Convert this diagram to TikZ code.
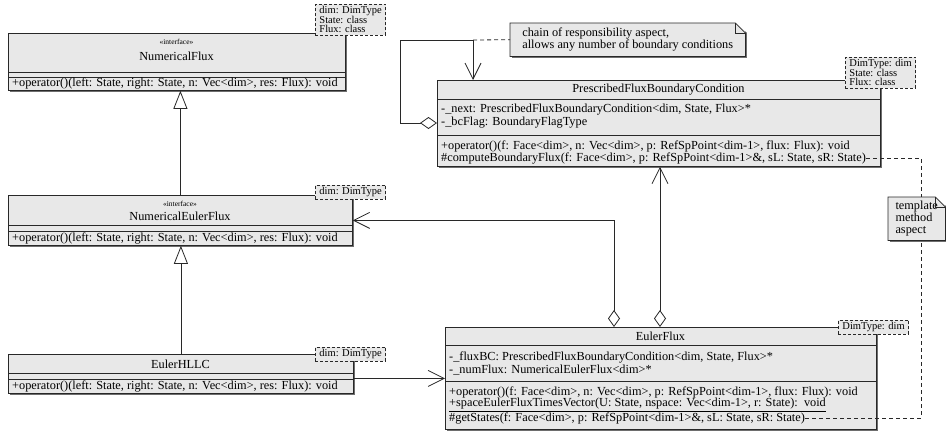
\documentclass[tikz,border=0pt]{standalone}
\usepackage{fontspec}
\setmainfont{Liberation Serif}
\usepackage{tikz}
\usetikzlibrary{arrows.meta, positioning, calc, shadows}
\definecolor{boxfill}{RGB}{232,232,232}
\definecolor{boxline}{RGB}{40,40,40}
\definecolor{shadowgray}{RGB}{110,110,110}
\newcommand{\umlfont}{\fontsize{12.3}{12}\selectfont}
\newcommand{\notefold}[1]{%
  \fill[white] ([xshift=-10pt]#1.north east) -- ([xshift=2pt]#1.north east) -- ([shift={(2pt,-10pt)}]#1.north east) -- cycle;
  \draw[boxline, line width=0.8pt] (#1.north west) -- ([xshift=-10pt]#1.north east) -- ([yshift=-10pt]#1.north east) -- (#1.south east) -- (#1.south west) -- cycle;
  \draw[boxline, line width=0.8pt] ([xshift=-10pt]#1.north east) |- ([yshift=-10pt]#1.north east);
}
\tikzset{
  classbox/.style={rectangle, draw=boxline, fill=boxfill, line width=0.8pt,
    anchor=north west, inner sep=0pt,
    drop shadow={shadow xshift=1.6pt, shadow yshift=-1.6pt, fill=shadowgray, opacity=1}},
  cname/.style={font=\umlfont, inner sep=0pt},
  stereo/.style={font=\fontsize{7.5}{8}\selectfont, inner sep=0pt},
  member/.style={font=\umlfont, anchor=west, inner sep=0pt},
  divider/.style={draw=boxline, line width=0.8pt},
  tparam/.style={rectangle, draw=boxline, fill=boxfill, dash pattern=on 3pt off 2pt,
    line width=0.9pt, anchor=north west, align=left, inner xsep=4pt, inner ysep=2pt,
    font=\fontsize{10.5}{9.6}\selectfont},
  notebox/.style={rectangle, fill=boxfill, anchor=north west, align=left,
    inner xsep=5pt, inner ysep=3pt,
    drop shadow={shadow xshift=1.6pt, shadow yshift=-1.6pt, fill=shadowgray, opacity=1}},
  realize/.style={-{Triangle[length=18pt, width=14pt, fill=white]}, draw=boxline, line width=0.8pt},
  assoc/.style={-{Straight Barb[length=16pt, width=16pt]}, draw=boxline, line width=0.8pt},
  aggr/.style={{Diamond[length=17pt, width=12pt, fill=white]}-{Straight Barb[length=16pt, width=16pt]},
    draw=boxline, line width=0.8pt},
  noteline/.style={draw=boxline, dash pattern=on 4pt off 3pt, line width=0.8pt}
}

\begin{document}
\begin{tikzpicture}[x=1pt, y=-1pt]
  \useasboundingbox (0,0) rectangle (946,434);

  % NumericalFlux
  \node[classbox, minimum width=337pt, minimum height=57pt] (nf) at (8,33) {};
  \node[stereo] (nfst) at (176.5,42) {«interface»};
  \node[cname] (nfname) at (176.5,56) {NumericalFlux};
  \draw[divider] (8,72) -- (345,72);
  \draw[divider] (8,77) -- (345,77);
  \node[member] (nfop) at (12,83.5) {+operator()(left: State, right: State, n: Vec<dim>, res: Flux): void};
  \node[tparam] (nfparam) at (315,4) {dim: DimType\\State: class\\Flux: class};

  % NumericalEulerFlux
  \node[classbox, minimum width=344pt, minimum height=50pt] (nef) at (8,195) {};
  \node[stereo] (nefst) at (180,204) {«interface»};
  \node[cname] (nefname) at (180,216) {NumericalEulerFlux};
  \draw[divider] (8,225) -- (352,225);
  \draw[divider] (8,231) -- (352,231);
  \node[member] (nefop) at (12,238) {+operator()(left: State, right: State, n: Vec<dim>, res: Flux): void};
  \node[tparam] (nefparam) at (315,185) {dim: DimType};

  % EulerHLLC
  \node[classbox, minimum width=345pt, minimum height=39pt] (hllc) at (8,354) {};
  \node[cname] (hllcname) at (180.5,364) {EulerHLLC};
  \draw[divider] (8,373) -- (353,373);
  \draw[divider] (8,379) -- (353,379);
  \node[member] (hllcop) at (12,386) {+operator()(left: State, right: State, n: Vec<dim>, res: Flux): void};
  \node[tparam] (hllcparam) at (315,347) {dim: DimType};

  % PrescribedFluxBoundaryCondition
  \node[classbox, minimum width=443pt, minimum height=86pt] (pfbc) at (437,80) {};
  \node[cname] (pfbcname) at (658.5,90) {PrescribedFluxBoundaryCondition};
  \draw[divider] (437,99) -- (880,99);
  \node[member] (pfbcnext) at (441,110) {-\_next: PrescribedFluxBoundaryCondition<dim, State, Flux>*};
  \node[member] (pfbcflag) at (441,123) {-\_bcFlag: BoundaryFlagType};
  \draw[divider] (437,135) -- (880,135);
  \node[member] (pfbcop) at (441,146) {+operator()(f: Face<dim>, n: Vec<dim>, p: RefSpPoint<dim-1>, flux: Flux): void};
  \node[member] (pfbccomp) at (441,158) {\#computeBoundaryFlux(f: Face<dim>, p: RefSpPoint<dim-1>\&, sL: State, sR: State)};
  \node[tparam] (pfbcparam) at (845,57) {DimType: dim\\State: class\\Flux: class};

  % EulerFlux
  \node[classbox, minimum width=431pt, minimum height=102pt] (ef) at (445,327) {};
  \node[cname] (efname) at (660.5,336) {EulerFlux};
  \draw[divider] (445,345) -- (876,345);
  \node[member] (efbc) at (449,357) {-\_fluxBC: PrescribedFluxBoundaryCondition<dim, State, Flux>*};
  \node[member] (efnum) at (449,370) {-\_numFlux: NumericalEulerFlux<dim>*};
  \draw[divider] (445,381) -- (876,381);
  \node[member] (efop) at (449,392) {+operator()(f: Face<dim>, n: Vec<dim>, p: RefSpPoint<dim-1>, flux: Flux): void};
  \node[member] (efspace) at (449,405) {\underline{+spaceEulerFluxTimesVector(U: State, nspace: Vec<dim-1>, r: State):\ \ void}};
  \node[member] (efget) at (449,418) {\#getStates(f: Face<dim>, p: RefSpPoint<dim-1>\&, sL: State, sR: State)};
  \node[tparam] (efparam) at (838,320) {DimType: dim};

  % generalizations
  \draw[realize] (nef.north) -- (nef.north |- nf.south);
  \draw[realize] (hllc.north) -- (hllc.north |- nef.south);

  % associations
  \coordinate (hllcout) at ([yshift=-4.5pt]hllc.east);
  \draw[assoc] (hllcout) -- (hllcout -| ef.west);
  \draw[aggr] ([xshift=169pt]ef.north west) |- (nef.east);
  \draw[aggr] ([xshift=215pt]ef.north west) -- ([xshift=223pt]pfbc.south west);

  % chain of responsibility
  \coordinate (selfleft) at (400,40);
  \coordinate (selftop) at (473,40);
  \draw[aggr] (pfbc.west |- pfbcflag) -| (selfleft) -- (selftop) -- (selftop |- pfbc.north);
  \node[notebox, minimum width=235pt, minimum height=33pt, font=\fontsize{12.3}{11}\selectfont] (chain) at (510,23)
    {chain of responsibility aspect,\\allows any number of boundary conditions};
  \notefold{chain}
  \draw[noteline] (selftop) -- (chain.west);

  % template method
  \coordinate (tmx) at (921,0);
  \draw[noteline] (pfbccomp.east) -- (pfbccomp.east -| tmx) -- (efget.east -| tmx) -- (efget.east);
  \node[notebox, minimum width=57pt, minimum height=43pt, font=\fontsize{12.3}{12}\selectfont] (tmnote) at (888,197)
    {template\\method\\aspect};
  \notefold{tmnote}
\end{tikzpicture}
\end{document}
